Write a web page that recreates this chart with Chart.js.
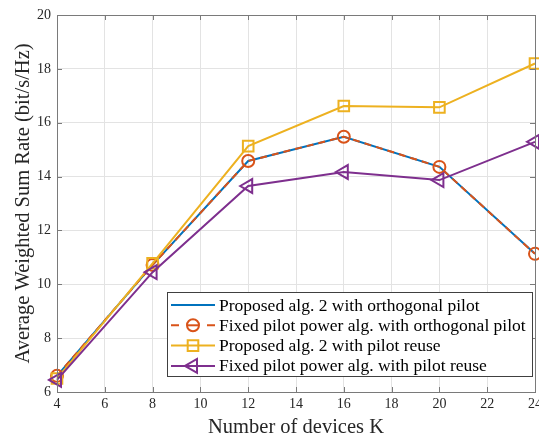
<!DOCTYPE html>
<html>
<head>
<meta charset="utf-8">
<script src="https://cdn.jsdelivr.net/npm/chart.js@4/dist/chart.umd.min.js"></script>
<style>
  html, body { margin: 0; padding: 0; background: #fff; }
  #wrap { width: 539px; height: 440px; }
</style>
</head>
<body>
<div id="wrap"><canvas id="c" width="539" height="440"></canvas></div>
<script>
// Number of devices K
const devices = [4, 8, 12, 16, 20, 24];
// Average weighted sum rate (bit/s/Hz) per scheme
const proposedOrthogonal = [6.60, 10.72, 14.58, 15.48, 14.36, 11.13];
const fixedOrthogonal    = [6.60, 10.72, 14.58, 15.48, 14.36, 11.13];
const proposedReuse      = [6.50, 10.78, 15.13, 16.62, 16.57, 18.20];
const fixedReuse         = [6.45, 10.45, 13.65, 14.17, 13.87, 15.29];

const xTicks = [4, 6, 8, 10, 12, 14, 16, 18, 20, 22, 24];
const yTicks = [6, 8, 10, 12, 14, 16, 18, 20];

const seriesLabels = [
  'Proposed alg. 2 with orthogonal pilot',
  'Fixed pilot power alg. with orthogonal pilot',
  'Proposed alg. 2 with pilot reuse',
  'Fixed pilot power alg. with pilot reuse'
];

const FONT = '"Liberation Serif", "Times New Roman", serif';
const TEXT = '#262626';
const AXIS = '#7a7a7a';

const pts = vals => devices.map((d, i) => ({ x: d, y: vals[i] }));

// Frame, inward tick marks and the in-plot legend
const framePlugin = {
  id: 'frame',
  afterDraw(chart) {
    const { ctx, chartArea: a, scales } = chart;
    ctx.save();
    ctx.strokeStyle = AXIS;
    ctx.lineWidth = 1;
    ctx.strokeRect(Math.round(a.left) + 0.5, Math.round(a.top) + 0.5,
                   Math.round(a.right - a.left), Math.round(a.bottom - a.top));
    const tl = 5;
    ctx.beginPath();
    xTicks.forEach(t => {
      const x = Math.round(scales.x.getPixelForValue(t)) + 0.5;
      ctx.moveTo(x, a.bottom); ctx.lineTo(x, a.bottom - tl);
      ctx.moveTo(x, a.top); ctx.lineTo(x, a.top + tl);
    });
    yTicks.forEach(t => {
      const y = Math.round(scales.y.getPixelForValue(t)) + 0.5;
      ctx.moveTo(a.left, y); ctx.lineTo(a.left + tl, y);
      ctx.moveTo(a.right, y); ctx.lineTo(a.right - tl, y);
    });
    ctx.stroke();

    // legend box
    const bx = 167.5, by = 292.5, bw = 365, bh = 84, rowH = 20.3, row0 = 305;
    ctx.fillStyle = '#fff';
    ctx.fillRect(bx, by, bw, bh);
    ctx.strokeStyle = '#404040';
    ctx.strokeRect(bx, by, bw, bh);
    ctx.textBaseline = 'middle';
    chart.data.datasets.forEach((ds, i) => {
      const y = row0 + i * rowH;
      const x0 = 171, x1 = 215, xm = 193;
      ctx.strokeStyle = ds.borderColor;
      ctx.lineWidth = ds.borderWidth;
      ctx.beginPath();
      if (ds.borderDash) {
        ctx.moveTo(x0, y); ctx.lineTo(x0 + 8, y);
        ctx.moveTo(x1 - 8, y); ctx.lineTo(x1, y);
      } else {
        ctx.moveTo(x0, y); ctx.lineTo(x1, y);
      }
      ctx.stroke();
      if (ds.pointRadius > 0) {
        ctx.lineWidth = ds.pointBorderWidth;
        ctx.strokeStyle = ds.borderColor;
        ctx.fillStyle = 'rgba(0,0,0,0)';
        Chart.helpers.drawPoint(ctx, {
          pointStyle: ds.pointStyle,
          rotation: ds.pointRotation || 0,
          radius: ds.pointRadius,
          borderWidth: ds.pointBorderWidth
        }, xm, y);
        if (ds.pointStyle === 'circle') {
          // the line runs through the hollow circle
          ctx.lineWidth = ds.borderWidth;
          ctx.beginPath();
          ctx.moveTo(xm - ds.pointRadius, y); ctx.lineTo(xm + ds.pointRadius, y);
          ctx.stroke();
        }
      }
      ctx.fillStyle = '#000';
      ctx.font = '17.5px ' + FONT;
      ctx.fillText(ds.label, 219, y + 1);
    });
    ctx.restore();
  }
};

new Chart(document.getElementById('c'), {
  type: 'line',
  data: {
    datasets: [
      {
        label: seriesLabels[0], data: pts(proposedOrthogonal), order: 4,
        borderColor: '#0072BD', borderWidth: 2, pointRadius: 0, pointBorderWidth: 0
      },
      {
        label: seriesLabels[1], data: pts(fixedOrthogonal), order: 3,
        borderColor: '#D95319', borderWidth: 2, borderDash: [7, 5],
        pointStyle: 'circle', pointRadius: 6, pointBorderWidth: 2,
        pointBackgroundColor: 'rgba(0,0,0,0)', pointBorderColor: '#D95319'
      },
      {
        label: seriesLabels[2], data: pts(proposedReuse), order: 2,
        borderColor: '#EDB120', borderWidth: 2,
        pointStyle: 'rect', pointRadius: 7.5, pointBorderWidth: 2,
        pointBackgroundColor: 'rgba(0,0,0,0)', pointBorderColor: '#EDB120'
      },
      {
        label: seriesLabels[3], data: pts(fixedReuse), order: 1,
        borderColor: '#7E2F8E', borderWidth: 2,
        pointStyle: 'triangle', pointRotation: -90, pointRadius: 8, pointBorderWidth: 2,
        pointBackgroundColor: 'rgba(0,0,0,0)', pointBorderColor: '#7E2F8E'
      }
    ]
  },
  options: {
    responsive: false,
    devicePixelRatio: 1,
    animation: false,
    clip: false,
    layout: { autoPadding: false, padding: { top: 15, right: 4, left: 0, bottom: 0 } },
    elements: { line: { tension: 0 } },
    plugins: { legend: { display: false }, tooltip: { enabled: false } },
    scales: {
      x: {
        type: 'linear', min: 4, max: 24,
        afterBuildTicks: s => { s.ticks = xTicks.map(v => ({ value: v })); },
        afterFit: s => { s.height = 48; s.paddingLeft = 0; s.paddingRight = 0; },
        grid: { color: '#e3e3e3', drawTicks: false },
        border: { display: false },
        ticks: { color: TEXT, font: { family: FONT, size: 14 }, padding: 4, maxRotation: 0 },
        title: { display: true, text: 'Number of devices K', color: TEXT,
                 font: { family: FONT, size: 20.5 }, padding: { top: 0, bottom: 0 } }
      },
      y: {
        type: 'linear', min: 6, max: 20,
        afterBuildTicks: s => { s.ticks = yTicks.map(v => ({ value: v })); },
        afterFit: s => { s.width = 57; s.paddingTop = 0; s.paddingBottom = 0; },
        grid: { color: '#e3e3e3', drawTicks: false },
        border: { display: false },
        ticks: { color: TEXT, font: { family: FONT, size: 14 }, padding: 6 },
        title: { display: true, text: 'Average Weighted Sum Rate (bit/s/Hz)', color: TEXT,
                 font: { family: FONT, size: 20.5 }, padding: { top: 11, bottom: 0 } }
      }
    }
  },
  plugins: [framePlugin]
});
</script>
</body>
</html>
